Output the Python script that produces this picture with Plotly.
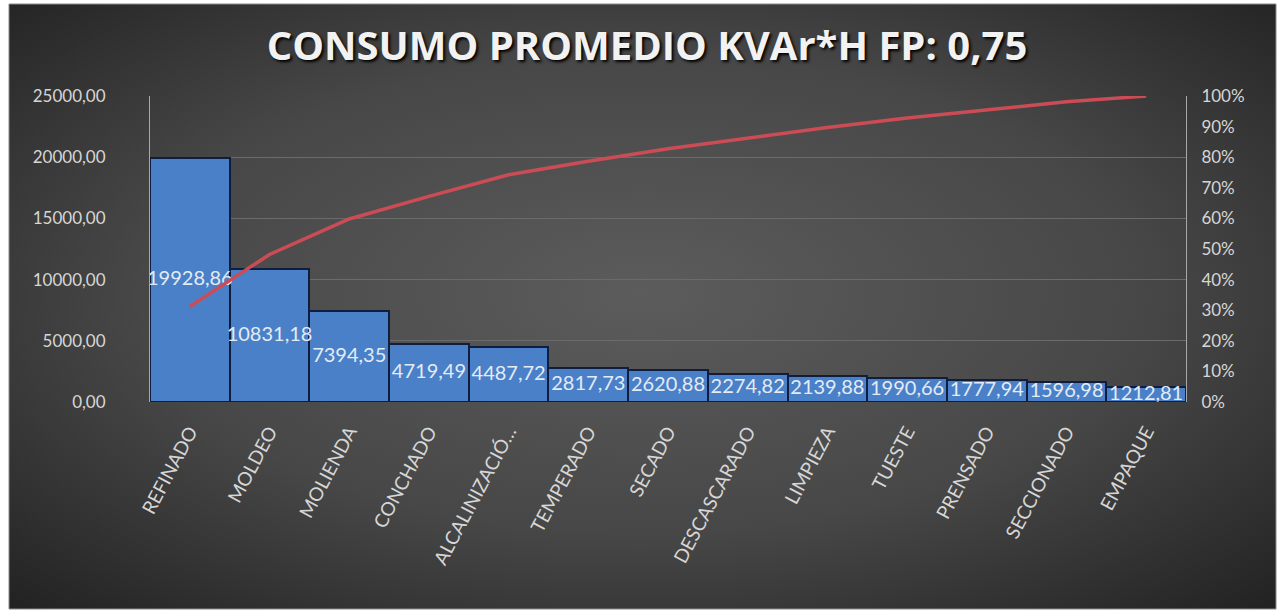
import base64
import plotly.graph_objects as go

# Pareto data: average reactive energy per process
categories = ["REFINADO", "MOLDEO", "MOLIENDA", "CONCHADO", "ALCALINIZACIÓ…",
              "TEMPERADO", "SECADO", "DESCASCARADO", "LIMPIEZA", "TUESTE",
              "PRENSADO", "SECCIONADO", "EMPAQUE"]
consumo = [19928.86, 10831.18, 7394.35, 4719.49, 4487.72, 2817.73, 2620.88,
           2274.82, 2139.88, 1990.66, 1777.94, 1596.98, 1212.81]
left_ticks = [0, 5000, 10000, 15000, 20000, 25000]

total = sum(consumo)
acumulado = []
run = 0.0
for v in consumo:
    run += v
    acumulado.append(run / total)

W, H = 1283, 613
L, R, T, B = 150, 1186, 96, 402
pw, ph = R - L, B - T


def px_x(x):
    return (x - L) / pw


def px_y(y):
    return (B - y) / ph


# dark radial backdrop of the chart card
svg = (
    '<svg xmlns="http://www.w3.org/2000/svg" width="1000" height="500" '
    'preserveAspectRatio="none" viewBox="0 0 1000 500">'
    '<defs><radialGradient id="g" cx="0.5" cy="0.48" r="0.72">'
    '<stop offset="0" stop-color="#5c5c5c"/>'
    '<stop offset="0.55" stop-color="#474747"/>'
    '<stop offset="1" stop-color="#222222"/>'
    '</radialGradient></defs>'
    '<rect width="1000" height="500" fill="url(#g)"/></svg>'
)
bg_src = "data:image/svg+xml;base64," + base64.b64encode(svg.encode()).decode()

fig = go.Figure()

fig.add_trace(go.Bar(
    x=categories, y=consumo,
    marker=dict(color="#4a80c8", line=dict(color="#101d3f", width=2)),
    hoverinfo="x+y",
))

fig.add_trace(go.Scatter(
    x=categories, y=[v / 2 for v in consumo],
    mode="text",
    text=[f"{v:.2f}".replace(".", ",") for v in consumo],
    textposition="middle center",
    textfont=dict(family="Lato", size=20, color="#e3ebf5"),
    hoverinfo="skip",
))

fig.add_trace(go.Scatter(
    x=categories, y=acumulado, yaxis="y2",
    mode="lines",
    line=dict(color="#cc4c56", width=3.5),
    hoverinfo="x+y",
))

tick_font = dict(family="Lato", size=17, color="#d6d6d6")

fig.update_layout(
    width=W, height=H,
    margin=dict(l=L, r=W - R, t=T, b=H - B),
    paper_bgcolor="white",
    plot_bgcolor="rgba(0,0,0,0)",
    separators=",.",
    showlegend=False,
    bargap=0,
    title=dict(
        text="<b>CONSUMO PROMEDIO KVAr*H FP: 0,75</b>",
        x=(647 - L) / pw, xanchor="center", xref="paper",
        y=1 - 46 / H, yanchor="middle",
        font=dict(family="Open Sans", size=40, color="#f2f2f2",
                  shadow="2px 2px 3px #000000"),
    ),
    xaxis=dict(
        tickangle=-62, tickfont=dict(family="Lato", size=19, color="#d6d6d6"),
        showgrid=False, showline=False, ticks="", ticklabelstandoff=14,
        range=[-0.5, len(categories) - 0.5],
    ),
    yaxis=dict(
        range=[0, 25000], tickvals=left_ticks, tickformat=".2f",
        tickfont=tick_font, showgrid=True, gridcolor="#6b6b6b", gridwidth=1,
        showline=True, linecolor="#a8a8a8", linewidth=1, zeroline=False,
        ticks="", ticklabelstandoff=40,
    ),
    yaxis2=dict(
        overlaying="y", side="right", range=[0, 1], dtick=0.1,
        tickformat=".0%", tickfont=tick_font, showgrid=False,
        showline=True, linecolor="#a8a8a8", linewidth=1, zeroline=False,
        ticks="", ticklabelstandoff=11,
    ),
    images=[dict(
        source=bg_src, xref="paper", yref="paper",
        x=px_x(9), y=px_y(4), sizex=(1276 - 9) / pw, sizey=(609 - 4) / ph,
        xanchor="left", yanchor="top", sizing="stretch", layer="below",
    )],
    shapes=[dict(
        type="rect", xref="paper", yref="paper",
        x0=px_x(9), x1=px_x(1276), y0=px_y(609), y1=px_y(4),
        line=dict(color="#8a8a8a", width=1), layer="below",
    )],
)

fig.write_html("out.html")
